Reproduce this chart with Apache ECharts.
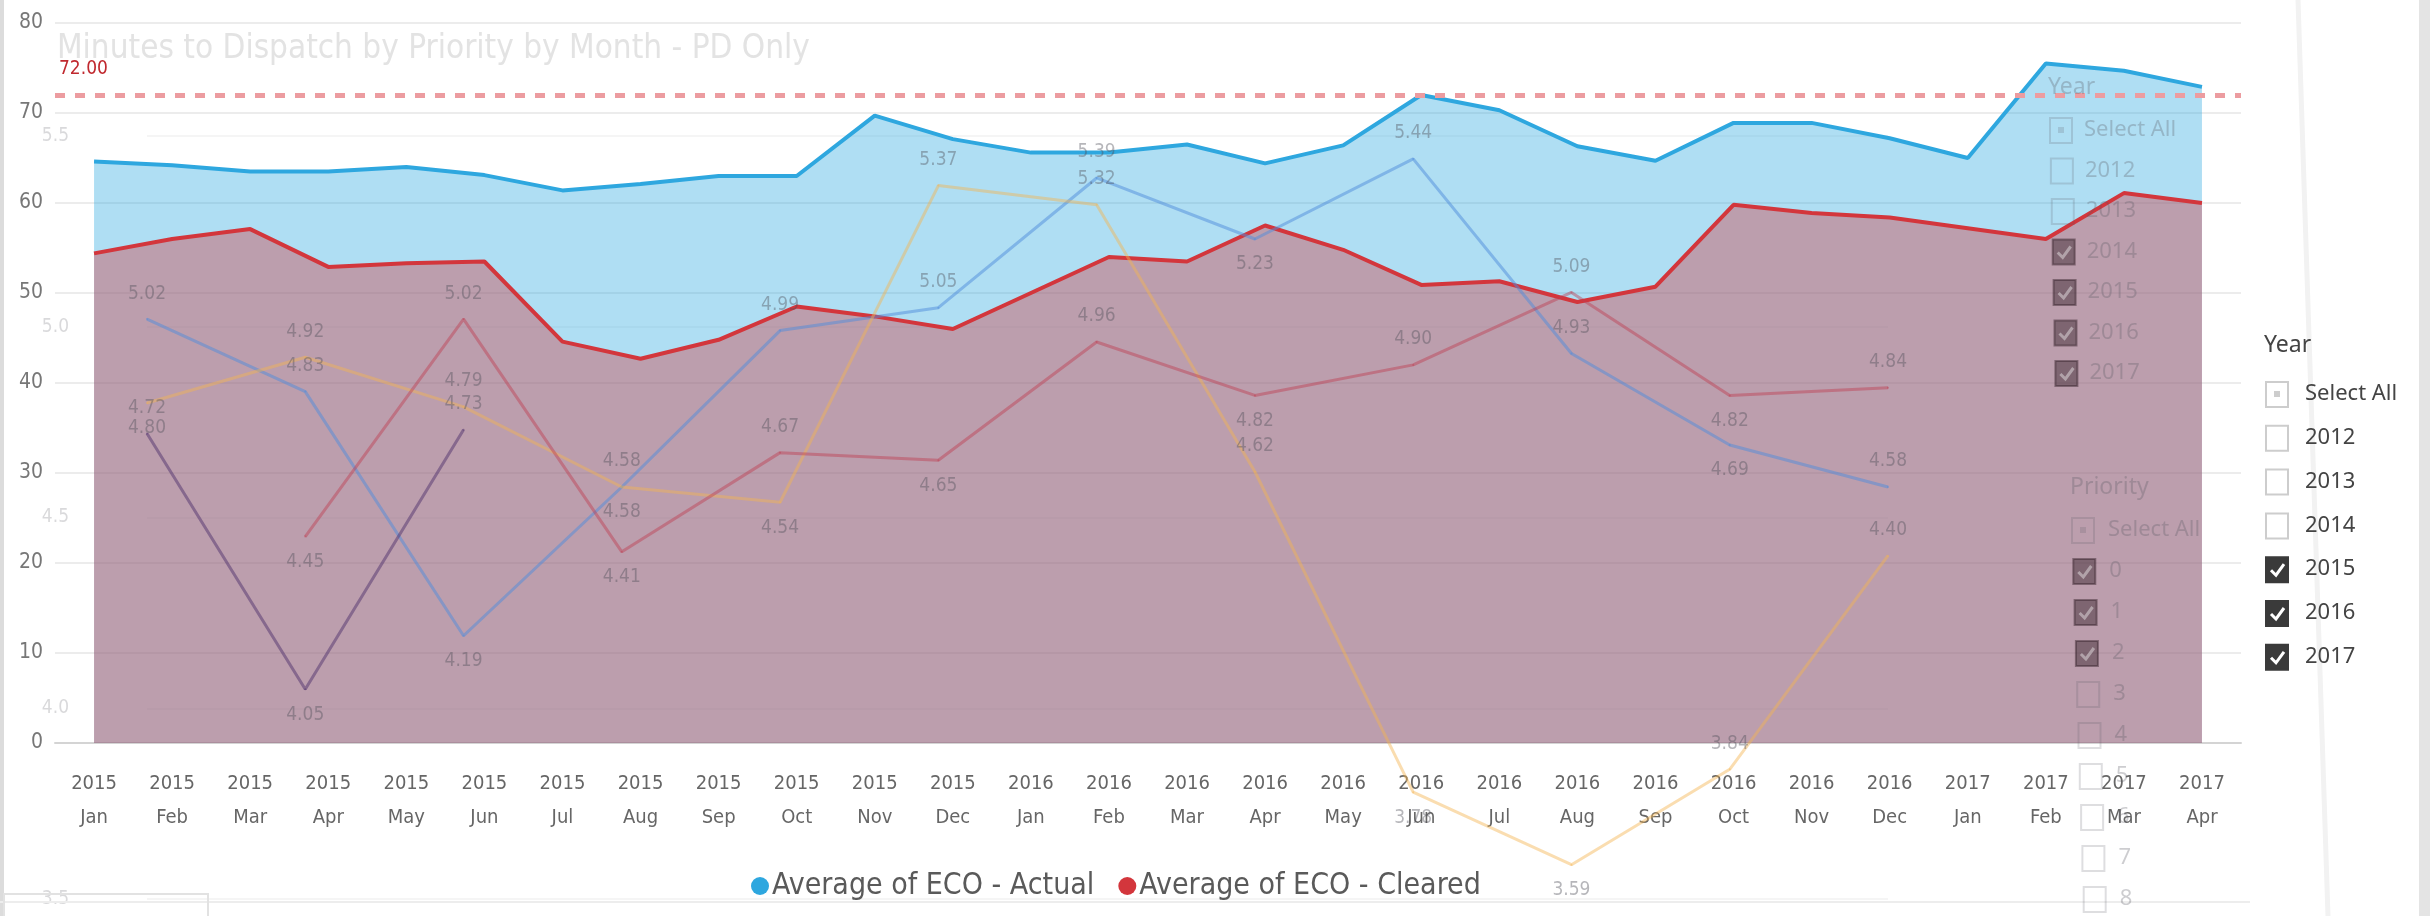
<!DOCTYPE html>
<html>
<head>
<meta charset="utf-8">
<title>Minutes to Dispatch by Priority by Month - PD Only</title>
<script src="https://cdn.jsdelivr.net/npm/echarts@6/dist/echarts.min.js"></script>
<style>
  html, body { margin: 0; padding: 0; background: #fff; }
  #main { width: 2430px; height: 916px; }
</style>
</head>
<body>
<div id="main"></div>
<script>
// main chart: one point per month, 2015 Jan .. 2017 Apr
var years = ['2015','2015','2015','2015','2015','2015','2015','2015','2015','2015','2015','2015',
             '2016','2016','2016','2016','2016','2016','2016','2016','2016','2016','2016','2016',
             '2017','2017','2017','2017'];
var months = ['Jan','Feb','Mar','Apr','May','Jun','Jul','Aug','Sep','Oct','Nov','Dec',
              'Jan','Feb','Mar','Apr','May','Jun','Jul','Aug','Sep','Oct','Nov','Dec',
              'Jan','Feb','Mar','Apr'];
var actual = [64.6, 64.2, 63.5, 63.5, 64.0, 63.1, 61.4, 62.1, 63.0, 63.0, 69.7, 67.1,
              65.6, 65.6, 66.5, 64.4, 66.4, 72.0, 70.3, 66.3, 64.7, 68.9, 68.9, 67.2,
              65.0, 75.5, 74.7, 72.9];
var cleared = [54.4, 56.0, 57.1, 52.9, 53.3, 53.5, 44.6, 42.7, 44.8, 48.5, 47.4, 46.0,
               50.0, 54.0, 53.5, 57.5, 54.8, 50.9, 51.3, 49.0, 50.7, 59.8, 58.9, 58.4,
               57.2, 56.0, 61.1, 60.0];
var target = 72;

// faded overlay of another page (minutes by month, one line per year)
var ghostMonths = ['Jan','Feb','Mar','Apr','May','Jun','Jul','Aug','Sep','Oct','Nov','Dec'];
var ghostBlue   = [5.02, 4.83, 4.19, 4.58, 4.99, 5.05, 5.39, 5.23, 5.44, 4.93, 4.69, 4.58];
var ghostOrange = [4.80, 4.92, 4.79, 4.58, 4.54, 5.37, 5.32, 4.62, 3.78, 3.59, 3.84, 4.40];
var ghostRed    = [null, 4.45, 5.02, 4.41, 4.67, 4.65, 4.96, 4.82, 4.90, 5.09, 4.82, 4.84];
var ghostPurple = [4.72, 4.05, 4.73];
// which side of the point each label sits on
var blueSides   = ['top','top','bottom','top','top','top','top','bottom','top','top','bottom','top'];
var orangeSides = ['bottom','top','top','bottom','bottom','top','top','top','bottom','bottom','top','top'];
var redSides    = ['top','bottom','top','bottom','top','bottom','top','bottom','top','top','bottom','top'];
var purpleSides = ['top','bottom','top'];

// slicers
var yearItems = ['Select All','2012','2013','2014','2015','2016','2017'];
var yearChecked = [false, false, false, false, true, true, true];
var ghostYearChecked = [false, false, false, true, true, true, true];
var priorityItems = ['Select All','0','1','2','3','4','5','6','7','8'];
var priorityChecked = [false, true, true, true, false, false, false, false, false, false];

var NARROW = "'Liberation Sans Narrow', 'DejaVu Sans Condensed', 'Arial Narrow', sans-serif";
var SANS = "'Noto Sans', 'Open Sans', sans-serif";

var categories = months.map(function (m, i) { return years[i] + '\n' + m; });

function ghostData(values, sides) {
  return values.map(function (v, i) {
    return { value: v, label: { position: sides[i] } };
  });
}

function ghostSeries(values, sides, color) {
  return {
    type: 'line',
    xAxisIndex: 1,
    yAxisIndex: 1,
    data: ghostData(values, sides),
    symbol: 'circle',
    symbolSize: 2,
    showSymbol: true,
    silent: true,
    itemStyle: { color: color },
    lineStyle: { color: color, width: 3 },
    label: {
      show: true,
      distance: 15,
      color: 'rgba(80,80,90,0.42)',
      fontFamily: NARROW,
      fontSize: 19,
      formatter: function (p) { return p.value == null ? '' : p.value.toFixed(2); }
    },
    z: 3
  };
}

var crispPal = { text: '#444', box: '#cdcdcd', fill: '#3a3a3a', check: '#fff' };
var fadedPal = { text: 'rgba(90,90,100,0.3)', box: 'rgba(90,90,100,0.2)', fill: 'rgba(50,30,40,0.45)', check: 'rgba(255,255,255,0.4)' };

function addSlicer(out, title, items, checked, x, titleY, firstY, step, drift, textDx, pal) {
  out.push({ type: 'text', x: x, y: titleY, z: 100,
    style: { text: title, fill: pal.text, font: '23px ' + SANS, verticalAlign: 'middle' } });
  items.forEach(function (label, i) {
    var bx = x + 2 + drift * i, cy = firstY + step * i;
    out.push({ type: 'rect', z: 100,
      shape: { x: bx, y: cy - 12, width: 22, height: 25 },
      style: { fill: checked[i] ? pal.fill : 'transparent', stroke: checked[i] ? pal.fill : pal.box, lineWidth: 2 } });
    if (checked[i]) {
      out.push({ type: 'polyline', z: 101,
        shape: { points: [[bx + 5, cy + 1], [bx + 10, cy + 6], [bx + 18, cy - 5]] },
        style: { stroke: pal.check, lineWidth: 3, fill: null } });
    }
    if (i === 0) {
      out.push({ type: 'rect', z: 101, shape: { x: bx + 8, y: cy - 3, width: 6, height: 6 }, style: { fill: pal.box } });
    }
    out.push({ type: 'text', x: bx + textDx, y: cy, z: 100,
      style: { text: label, fill: pal.text, font: '22px ' + SANS, verticalAlign: 'middle' } });
  });
}

var graphics = [
  { type: 'rect', z: 90, shape: { x: 0, y: 0, width: 4, height: 916 }, style: { fill: '#dcdcdc' } },
  { type: 'rect', z: 90, shape: { x: 2419, y: 0, width: 11, height: 916 }, style: { fill: '#e4e4e4' } },
  { type: 'line', z: 90, shape: { x1: 2298, y1: 0, x2: 2328, y2: 916 }, style: { stroke: '#f2f2f2', lineWidth: 5 } },
  { type: 'line', z: 90, shape: { x1: 0, y1: 902, x2: 2250, y2: 902 }, style: { stroke: '#ededed', lineWidth: 2 } },
  { type: 'rect', z: 90, shape: { x: 4, y: 894, width: 204, height: 24 }, style: { fill: 'transparent', stroke: '#e2e2e2', lineWidth: 2 } }
];
addSlicer(graphics, 'Year', yearItems, ghostYearChecked, 2048, 87, 130, 40.5, 0.9, 34, fadedPal);
addSlicer(graphics, 'Priority', priorityItems, priorityChecked, 2070, 487, 530, 41, 1.3, 36, fadedPal);
addSlicer(graphics, 'Year', yearItems, yearChecked, 2264, 345, 394, 43.8, 0, 39, crispPal);

var chart = echarts.init(document.getElementById('main'));
chart.setOption({
  animation: false,
  backgroundColor: '#fff',
  title: {
    text: 'Minutes to Dispatch by Priority by Month - PD Only',
    left: 52, top: 28,
    textStyle: { fontFamily: NARROW, fontSize: 33, fontWeight: 'normal', color: '#e3e3e3' }
  },
  legend: {
    data: ['Average of ECO - Actual', 'Average of ECO - Cleared'],
    left: 746, top: 866,
    icon: 'circle', itemWidth: 18, itemHeight: 18, itemGap: 24,
    textStyle: { fontFamily: NARROW, fontSize: 30, color: '#5a5a5a', padding: [0, 0, 0, -2] }
  },
  grid: [
    { left: 55, right: 189, top: 23, bottom: 173 },
    { left: 147, right: 542, top: 136, bottom: 17 }
  ],
  xAxis: [
    {
      type: 'category', gridIndex: 0, data: categories, boundaryGap: true,
      axisLine: { lineStyle: { color: '#d4d4d4', width: 2 } },
      axisTick: { show: false },
      axisLabel: { color: '#666', fontFamily: NARROW, fontSize: 20, lineHeight: 34, margin: 24, interval: 0 }
    },
    {
      type: 'category', gridIndex: 1, data: ghostMonths, boundaryGap: false, show: false
    }
  ],
  yAxis: [
    {
      type: 'value', gridIndex: 0, min: 0, max: 80, interval: 10,
      axisLabel: { color: '#777', fontFamily: NARROW, fontSize: 21, margin: 12 },
      splitLine: { lineStyle: { color: '#ececec', width: 2 } }
    },
    {
      type: 'value', gridIndex: 1, min: 3.5, max: 5.5, interval: 0.5,
      axisLabel: { color: 'rgba(80,80,90,0.22)', fontFamily: NARROW, fontSize: 19, margin: 78,
        formatter: function (v) { return v.toFixed(1); } },
      axisLine: { show: false }, axisTick: { show: false },
      splitLine: { lineStyle: { color: 'rgba(0,0,0,0.04)', width: 2 } }
    }
  ],
  series: [
    {
      name: 'Average of ECO - Actual',
      type: 'line', data: actual, symbol: 'none',
      itemStyle: { color: '#2ea7df' },
      lineStyle: { color: '#2ea7df', width: 4 },
      areaStyle: { color: '#2ea7df', opacity: 0.38 },
      markLine: {
        silent: true, symbol: 'none',
        lineStyle: { color: '#ec9ca0', width: 5, type: [10, 10] },
        label: { position: 'insideStartTop', distance: [4, 16], formatter: target.toFixed(2),
          color: '#c0292f', fontFamily: NARROW, fontSize: 19 },
        data: [{ yAxis: target }]
      }
    },
    {
      name: 'Average of ECO - Cleared',
      type: 'line', data: cleared, symbol: 'none',
      itemStyle: { color: '#d3363c' },
      lineStyle: { color: '#d3363c', width: 4 },
      areaStyle: { color: '#d3363c', opacity: 0.38 }
    },
    ghostSeries(ghostBlue, blueSides, 'rgba(80,140,220,0.5)'),
    ghostSeries(ghostOrange, orangeSides, 'rgba(245,180,80,0.45)'),
    ghostSeries(ghostRed, redSides, 'rgba(190,60,80,0.45)'),
    ghostSeries(ghostPurple, purpleSides, 'rgba(80,50,110,0.5)')
  ],
  graphic: graphics
});
</script>
</body>
</html>
